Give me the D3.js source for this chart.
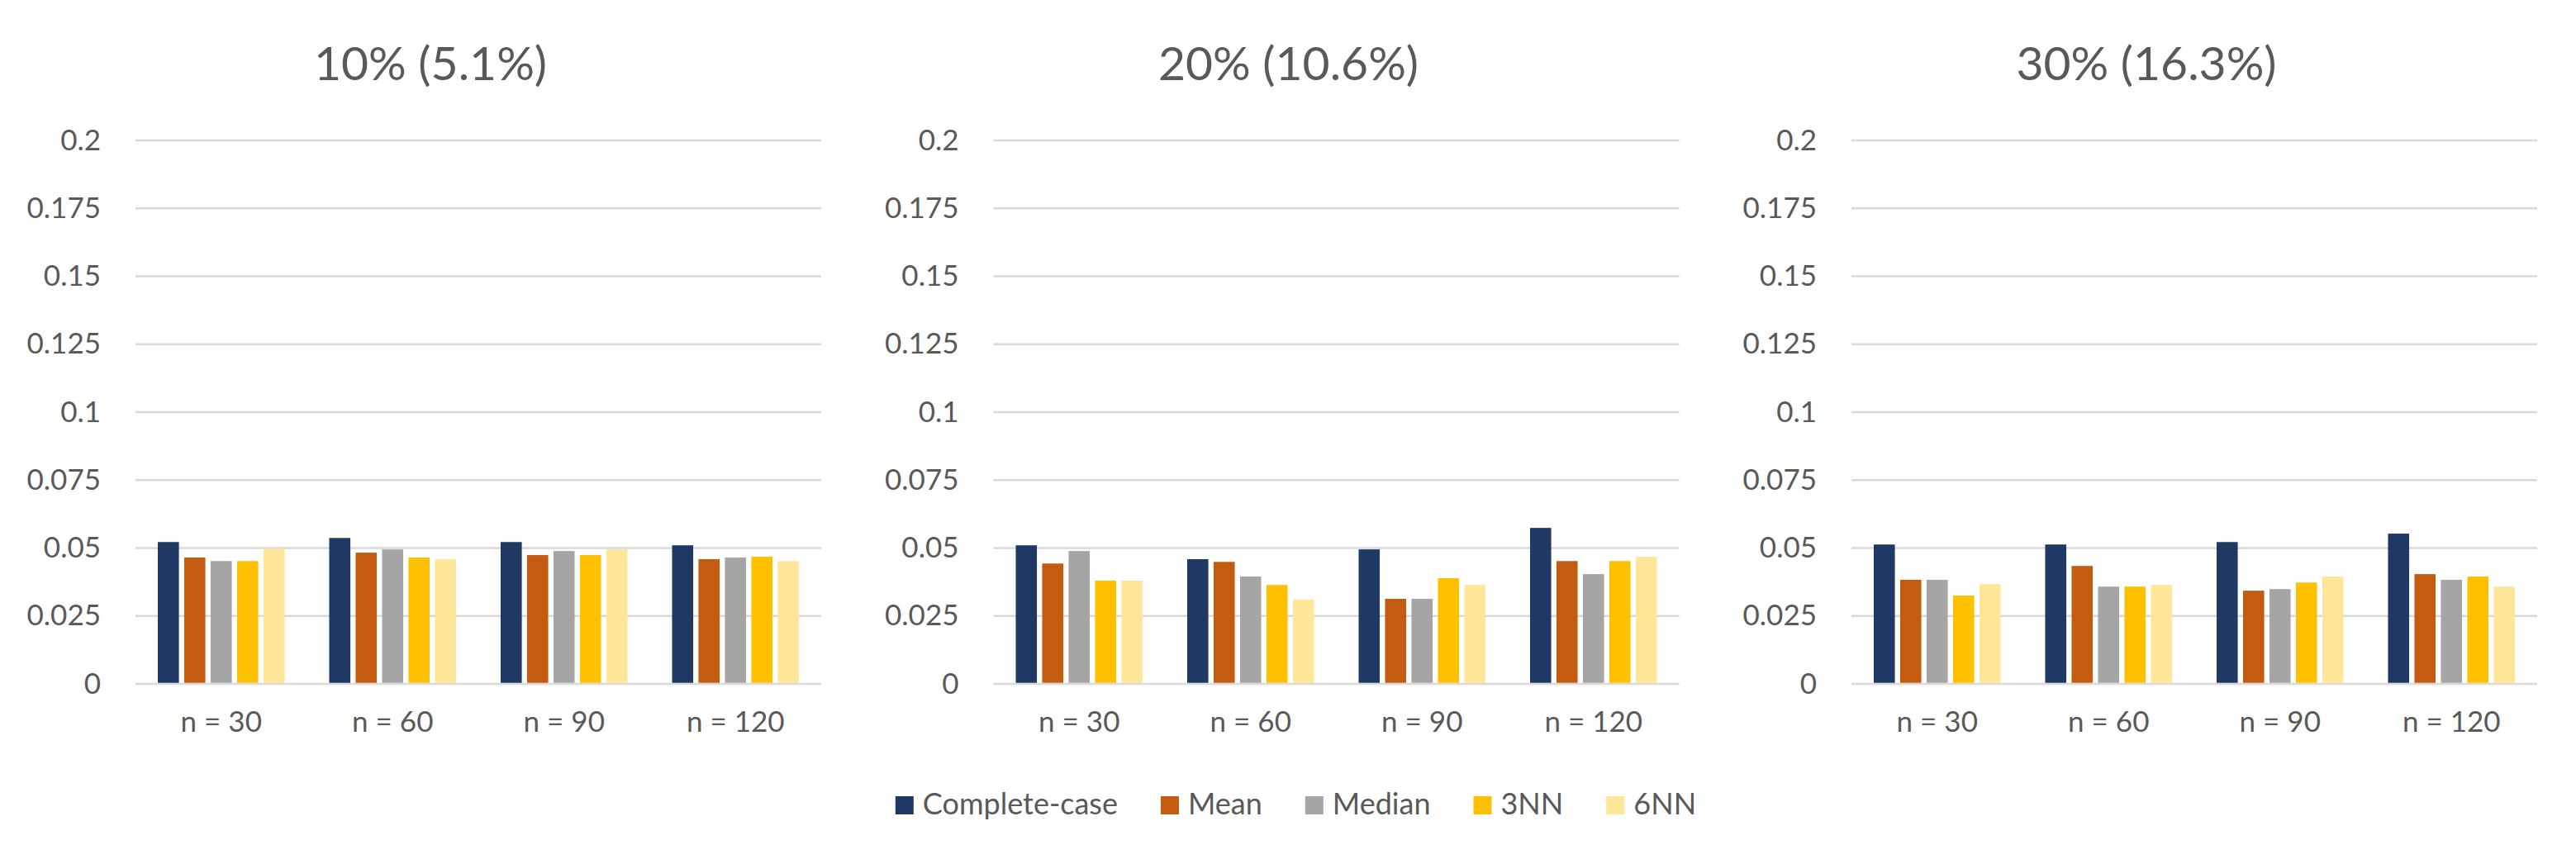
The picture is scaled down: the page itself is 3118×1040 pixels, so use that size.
<!DOCTYPE html>
<html>
<head>
<meta charset="utf-8">
<script src="https://cdn.jsdelivr.net/npm/d3@7"></script>
<style>
  html, body { margin: 0; padding: 0; background: #ffffff; }
  svg { display: block; }
  text { font-family: Lato, "Open Sans", sans-serif; fill: #595959; }
</style>
</head>
<body>
<svg id="chart" width="3118" height="1040"></svg>
<script>
// ---- data ----
const categories = ["n = 30", "n = 60", "n = 90", "n = 120"];
const seriesNames = ["Complete-case", "Mean", "Median", "3NN", "6NN"];
const seriesColors = ["#203864", "#C55A11", "#A5A5A5", "#FFC000", "#FFE699"];
const panelTitles = ["10% (5.1%)", "20% (10.6%)", "30% (16.3%)"];
const yTickValues = [0, 0.025, 0.05, 0.075, 0.1, 0.125, 0.15, 0.175, 0.2];

// values[panel][series][category]
const panel1 = [
  [0.0522, 0.0537, 0.0522, 0.0510],  // Complete-case
  [0.0465, 0.0483, 0.0474, 0.0459],  // Mean
  [0.0452, 0.0495, 0.0489, 0.0465],  // Median
  [0.0452, 0.0465, 0.0474, 0.0468],  // 3NN
  [0.0498, 0.0459, 0.0495, 0.0452]   // 6NN
];
const panel2 = [
  [0.0510, 0.0459, 0.0495, 0.0574],
  [0.0443, 0.0449, 0.0313, 0.0452],
  [0.0489, 0.0395, 0.0313, 0.0404],
  [0.0380, 0.0364, 0.0389, 0.0452],
  [0.0380, 0.0310, 0.0364, 0.0468]
];
const panel3 = [
  [0.0513, 0.0513, 0.0522, 0.0553],
  [0.0383, 0.0434, 0.0343, 0.0404],
  [0.0383, 0.0358, 0.0349, 0.0383],
  [0.0325, 0.0358, 0.0373, 0.0395],
  [0.0367, 0.0364, 0.0395, 0.0358]
];
const panels = [panel1, panel2, panel3];

// ---- layout ----
const svg = d3.select("#chart");
const panelStep = 1038.5;
const plotLeft = 164, plotRight = 994, plotTop = 170, plotBottom = 828;

const y = d3.scaleLinear().domain([0, 0.2]).range([plotBottom, plotTop]);
const x0 = d3.scaleBand().domain(categories).range([plotLeft, plotRight])
  .paddingInner(0.26).paddingOuter(0.13);
const x1 = d3.scaleBand().domain(seriesNames).range([0, x0.bandwidth()])
  .paddingInner(0.2).paddingOuter(0);
const color = d3.scaleOrdinal().domain(seriesNames).range(seriesColors);

panels.forEach((vals, pi) => {
  const g = svg.append("g").attr("transform", `translate(${pi * panelStep},0)`);

  // title
  g.append("text")
    .attr("x", 521).attr("y", 97)
    .attr("text-anchor", "middle")
    .style("font-size", "57px")
    .text(panelTitles[pi]);

  // gridlines
  g.append("g").selectAll("line").data(yTickValues).join("line")
    .attr("x1", plotLeft).attr("x2", plotRight)
    .attr("y1", d => y(d)).attr("y2", d => y(d))
    .attr("stroke", "#D9D9D9").attr("stroke-width", 2.7);

  // y axis labels
  const yAxis = d3.axisLeft(y).tickValues(yTickValues).tickSize(0).tickPadding(42)
    .tickFormat(d => String(d));
  const ya = g.append("g").attr("transform", `translate(${plotLeft},0)`).call(yAxis);
  ya.select(".domain").remove();
  ya.selectAll("text").style("font-size", "35px").attr("fill", "#595959")
    .style("font-family", "Lato, 'Open Sans', sans-serif");

  // bars
  const rows = categories.map((c, ci) => ({
    cat: c,
    items: seriesNames.map((s, si) => ({ s, v: vals[si][ci] }))
  }));
  g.append("g").selectAll("g").data(rows).join("g")
    .attr("transform", d => `translate(${x0(d.cat)},0)`)
    .selectAll("rect").data(d => d.items).join("rect")
    .attr("x", d => x1(d.s))
    .attr("width", x1.bandwidth())
    .attr("y", d => y(d.v))
    .attr("height", d => y(0) - y(d.v) - 1.3)
    .attr("fill", d => color(d.s));

  // x axis labels
  const xAxis = d3.axisBottom(x0).tickSize(0).tickPadding(33);
  const xa = g.append("g").attr("transform", `translate(0,${plotBottom})`).call(xAxis);
  xa.select(".domain").remove();
  xa.selectAll("text").style("font-size", "35px").attr("fill", "#595959")
    .style("font-family", "Lato, 'Open Sans', sans-serif");
});

// ---- legend ----
const legend = svg.append("g");
const swatch = 22, textGap = 11, itemGap = 52, legendCenter = 1568.5, legendY = 975;
const items = legend.selectAll("g").data(seriesNames).join("g");
items.append("rect")
  .attr("width", swatch).attr("height", swatch)
  .attr("y", legendY - swatch / 2)
  .attr("fill", d => color(d));
items.append("text")
  .attr("x", swatch + textGap).attr("y", legendY + 11)
  .style("font-size", "36px")
  .text(d => d);
let widths = [];
items.each(function() {
  widths.push(swatch + textGap + d3.select(this).select("text").node().getComputedTextLength());
});
const total = d3.sum(widths) + itemGap * (widths.length - 1);
let cx = legendCenter - total / 2;
items.each(function(d, i) {
  d3.select(this).attr("transform", `translate(${cx},0)`);
  cx += widths[i] + itemGap;
});
</script>
</body>
</html>
